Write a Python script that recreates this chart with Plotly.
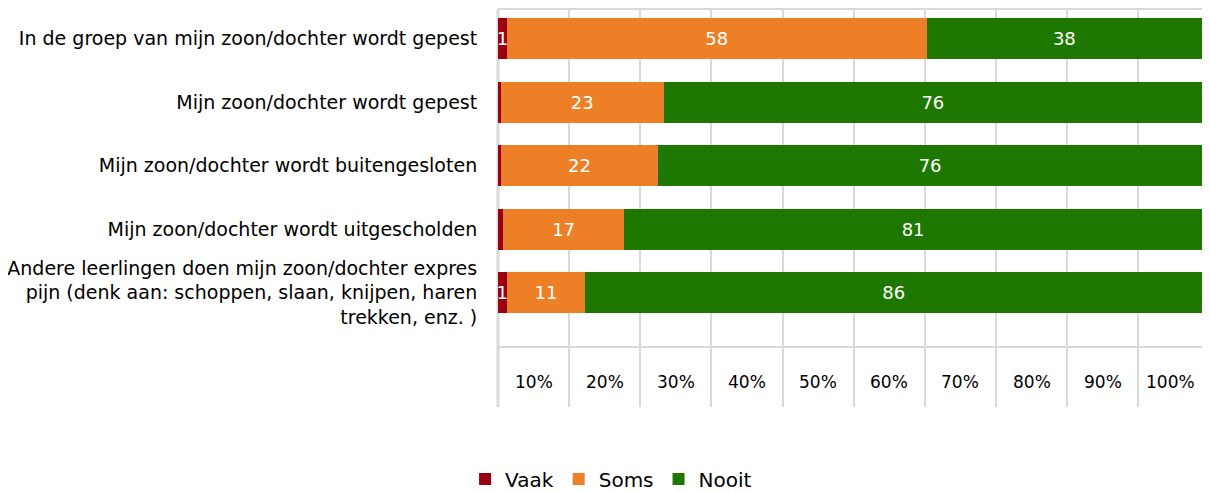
import plotly.graph_objects as go

categories = [
    "In de groep van mijn zoon/dochter wordt gepest",
    "Mijn zoon/dochter wordt gepest",
    "Mijn zoon/dochter wordt buitengesloten",
    "Mijn zoon/dochter wordt uitgescholden",
    "Andere leerlingen doen mijn zoon/dochter expres<br>pijn (denk aan: schoppen, slaan, knijpen, haren<br>trekken, enz. )",
]
series_names = ["Vaak", "Soms", "Nooit"]
vaak = [1.2, 0.4, 0.4, 0.7, 1.2]
soms = [58, 23, 22, 17, 11]
nooit = [38, 76, 76, 81, 86]
vaak_labels = ["1", "", "", "", "1"]
soms_labels = ["58", "23", "22", "17", "11"]
nooit_labels = ["38", "76", "76", "81", "86"]
tick_labels = ["10%", "20%", "30%", "40%", "50%", "60%", "70%", "80%", "90%", "100%"]

colors = ["#9B0011", "#ED7F26", "#1E7800"]
FONT = "DejaVu Sans"

fig = go.Figure()
for name, vals, labels, col in zip(series_names, [vaak, soms, nooit],
                                   [vaak_labels, soms_labels, nooit_labels], colors):
    fig.add_trace(go.Bar(
        y=categories, x=vals, name=name, orientation="h",
        marker=dict(color=col, line=dict(width=0)),
        text=labels, textposition="inside", insidetextanchor="middle",
        constraintext="none",
        textfont=dict(family=FONT, size=18, color="white"),
        width=0.646, xaxis="x", yaxis="y",
    ))

# Invisible trace to activate grid axis
fig.add_trace(go.Scatter(x=[0], y=[categories[0]], xaxis="x2", yaxis="y",
                         mode="markers", marker=dict(opacity=0),
                         showlegend=False, hoverinfo="skip"))

grid_max = 98.95
fig.update_layout(
    width=1210, height=491,
    barmode="stack", barnorm="percent",
    margin=dict(l=490, r=12, t=1, b=92, autoexpand=False),
    paper_bgcolor="white", plot_bgcolor="white",
    font=dict(family=FONT, size=17, color="#000000"),
    xaxis=dict(domain=[0, 0.9943], range=[0, 100], showgrid=False,
               zeroline=False, showticklabels=False, ticks=""),
    xaxis2=dict(domain=[0, 1], range=[0, grid_max], overlaying="x",
                anchor="y", side="bottom",
                tickvals=[i * 10 for i in range(10)],
                showticklabels=False, ticks="",
                showgrid=True, gridcolor="#D9D9D9", gridwidth=2,
                zeroline=False, layer="below traces"),
    yaxis=dict(type="category", range=[5.80, -0.47], showgrid=False,
               zeroline=False, ticks="outside", ticklen=16,
               tickcolor="rgba(0,0,0,0)", automargin=False,
               tickfont=dict(family=FONT, size=19, color="#000000")),
    legend=dict(orientation="h", xref="container", yref="container",
                x=0.4984, y=0.0407, xanchor="center", yanchor="middle",
                font=dict(family=FONT, size=20, color="#000000"),
                traceorder="normal"),
    showlegend=True,
)

# tick labels in the lower row, centered between grid lines
for i, lab in enumerate(tick_labels):
    xc = i * 10 + 5 if i < 9 else (90 + grid_max) / 2
    fig.add_annotation(x=xc, y=0.063, xref="x2", yref="paper", text=lab,
                       showarrow=False, xanchor="center", yanchor="middle",
                       font=dict(family=FONT, size=17, color="#000000"))

# box lines
line_style = dict(color="#D9D9D9", width=2)
fig.add_shape(type="line", xref="paper", yref="paper", x0=0, x1=1, y0=1, y1=1, line=line_style)
fig.add_shape(type="line", xref="paper", yref="paper", x0=1, x1=1, y0=0, y1=1, line=line_style)
fig.add_shape(type="line", xref="paper", yref="paper", x0=0, x1=1, y0=0.1508, y1=0.1508, line=line_style)
fig.add_shape(type="line", xref="paper", yref="paper", x0=0, x1=0, y0=0, y1=1,
              line=dict(color="#D9D9D9", width=3), layer="below")

fig.write_html("out.html")
